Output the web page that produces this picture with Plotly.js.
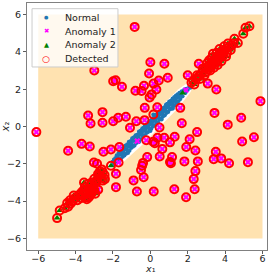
<!DOCTYPE html>
<html><head><meta charset="utf-8">
<script src="https://cdn.plot.ly/plotly-3.0.1.min.js"></script>
<style>html,body{margin:0;padding:0;background:#fff}#chart{width:274px;height:274px}</style>
</head><body><div id="chart"></div>
<script>
// Decision region (detector says "anomaly" inside the square, except the normal band)
const regionX = [-6, 6, 6, -6, -6];
const regionY = [-6, -6, 6, 6, -6];
const normalBandX = [-2.35, -2.1, -1.5, -0.5, 0.5, 1.5, 2.0, 2.35, 2.15, 1.5, 0.5, -0.5, -1.5, -2.0, -2.35];
const normalBandY = [-2.25, -1.8, -1.05, 0.0, 1.0, 2.0, 2.35, 2.35, 1.85, 1.0, -0.05, -1.05, -1.95, -2.25, -2.25];

const normalX = [-2.02,-1.98,-1.95,-1.91,-1.87,-1.84,-1.80,-1.77,-1.74,-1.70,-1.67,-1.63,-1.60,-1.57,-1.54,-1.51,-1.48,-1.45,-1.42,-1.39,-1.36,-1.33,-1.30,-1.27,-1.24,-1.21,-1.18,-1.15,-1.12,-1.09,-1.06,-1.03,-1.00,-0.97,-0.94,-0.91,-0.88,-0.85,-0.82,-0.79,-0.76,-0.73,-0.70,-0.67,-0.64,-0.61,-0.58,-0.55,-0.52,-0.49,-0.46,-0.43,-0.40,-0.37,-0.34,-0.31,-0.28,-0.25,-0.22,-0.19,-0.16,-0.13,-0.10,-0.07,-0.04,-0.01,0.02,0.05,0.08,0.11,0.14,0.17,0.20,0.23,0.26,0.29,0.32,0.35,0.38,0.41,0.44,0.47,0.50,0.53,0.56,0.59,0.62,0.65,0.68,0.71,0.74,0.77,0.80,0.83,0.86,0.89,0.92,0.95,0.98,1.01,1.04,1.07,1.10,1.13,1.16,1.19,1.22,1.25,1.28,1.31,1.34,1.37,1.40,1.43,1.46,1.49,1.52,1.56,1.60,1.64,1.68,1.72,1.77,1.82,1.87,1.93,2.00,2.08,2.14,0.16,-1.20,-0.60,0.00,0.60,1.20,-1.50,-0.90,-0.30,0.30,0.90];
const normalY = [-1.90,-2.06,-1.78,-1.96,-1.69,-1.88,-1.55,-1.80,-1.63,-1.42,-1.86,-1.50,-1.33,-1.71,-1.45,-1.20,-1.62,-1.38,-1.15,-1.55,-1.24,-1.02,-1.46,-1.21,-0.96,-1.35,-1.08,-0.82,-1.30,-0.99,-0.78,-1.15,-0.93,-0.63,-1.08,-0.77,-0.59,-1.02,-0.74,-0.47,-0.89,-0.61,-0.43,-0.84,-0.55,-0.28,-0.71,-0.44,-0.22,-0.67,-0.38,-0.10,-0.52,-0.24,-0.06,-0.47,-0.19,0.07,-0.35,-0.08,0.13,-0.30,0.00,0.26,-0.17,0.13,0.30,-0.12,0.16,0.44,0.01,0.29,0.47,0.06,0.35,0.61,0.19,0.46,0.68,0.23,0.52,0.80,0.38,0.66,0.84,0.43,0.71,0.97,0.55,0.82,1.03,0.60,0.90,1.16,0.73,1.03,1.20,0.78,1.06,1.34,0.91,1.19,1.37,0.96,1.25,1.50,1.09,1.36,1.57,1.15,1.43,1.66,1.28,1.54,1.73,1.35,1.62,1.80,1.47,1.74,1.89,1.62,1.88,1.98,1.80,2.02,1.97,2.12,2.08,0.64,-1.42,-0.82,-0.24,0.38,0.96,-1.18,-0.60,0.02,0.62,1.22];

// Anomaly 1 (uniform anomalies), detected
const anomaly1X = [-6.10,-3.00,-1.99,-1.86,-1.52,-0.84,-0.80,-0.47,-3.33,-3.20,-2.56,-2.56,-1.99,-1.72,-1.31,-1.09,-0.75,-0.31,0.00,0.75,-0.07,2.59,2.00,3.07,3.53,0.93,0.45,0.17,-0.34,0.32,0.07,-0.04,5.89,-0.30,0.37,1.60,3.43,4.86,4.14,2.50,1.68,0.49,0.38,0.74,1.30,1.05,0.15,0.24,-0.22,-1.66,-0.17,0.64,-2.51,-2.11,1.92,2.10,4.91,5.54,2.41,3.50,0.50,1.16,-0.39,-0.44,-0.50,1.05,1.10,1.82,2.54,3.39,3.79,4.21,5.22,-0.36,2.41,2.32,-0.72,0.18,1.28,2.37,1.91,-3.68,-4.40,-3.24,-3.02,-2.85,-1.70,-1.84,-1.84,-2.79,-0.90];
const anomaly1Y = [-0.30,3.00,2.43,2.48,2.13,5.34,1.92,1.90,0.59,0.16,0.77,0.20,0.28,0.47,0.52,-0.07,0.28,0.34,3.44,3.36,2.84,3.36,2.75,2.30,1.98,2.61,2.47,2.30,2.18,1.98,1.72,1.56,1.36,1.00,1.03,1.00,0.73,0.47,0.10,-0.30,0.17,-0.05,-0.60,-0.60,-0.55,-0.85,-0.82,-0.90,-0.74,-1.10,-1.64,-1.21,-1.35,-1.23,-1.10,-0.68,-0.80,-0.58,-1.29,-1.36,-1.61,-1.64,-1.95,-2.10,-2.33,-1.90,-1.97,-1.87,-1.87,-1.75,-1.71,-1.97,-1.91,-2.72,-2.39,-2.82,-3.48,-3.48,-3.36,-3.36,-3.79,-0.93,-1.30,-1.07,-1.93,-2.00,-1.93,-2.53,-3.25,-3.39,-2.89];
// Anomaly 1 points not detected (inside the normal band)
const anomaly1MissedX = [-0.70, 1.90];
const anomaly1MissedY = [-0.78, 1.95];

// Anomaly 2 (points continuing the normal line), detected
const anomaly2X = [2.20,2.30,2.45,2.60,2.75,2.85,2.95,3.00,3.10,3.15,3.25,3.30,3.35,3.45,3.50,3.55,3.60,3.70,3.75,3.85,3.90,4.00,4.10,4.20,4.35,4.50,4.68,4.97,5.09,5.30,
  2.35,2.50,2.65,2.80,2.90,3.05,3.20,3.30,3.40,3.55,3.60,3.70,3.80,3.95,4.05,4.15,4.30,4.45,3.35,3.15,3.90,3.65,
  -2.11,-2.45,-2.55,-2.60,-2.70,-2.75,-2.43,-2.90,-2.97,-3.05,-3.10,-3.20,-3.25,-3.30,-3.40,-3.45,-3.50,-3.60,-3.72,-3.85,-4.04,-4.15,-4.27,-4.40,-4.58,-4.85,-4.99,-3.24,
  -2.60,-2.80,-2.85,-2.55,-3.00,-3.15,-3.35,-3.50,-3.60,-3.40,-3.15,-3.00,-3.70,-3.90,-4.10,-4.30,-4.45,-3.30,-2.95,-3.55];
const anomaly2Y = [2.35,2.45,2.55,2.70,2.85,3.00,2.90,3.15,3.05,3.30,3.20,3.45,3.35,3.60,3.40,3.75,3.55,3.90,3.70,3.95,3.80,4.10,3.95,4.25,4.35,4.70,4.48,4.97,5.29,5.37,
  2.25,2.75,2.55,3.10,2.75,3.40,3.00,3.70,3.15,3.95,3.30,4.15,3.50,4.30,3.75,4.45,4.10,4.45,3.90,3.55,4.05,3.75,
  -2.10,-2.60,-2.45,-2.75,-2.41,-2.65,-2.82,-2.95,-3.04,-3.25,-3.45,-3.15,-3.60,-3.35,-3.55,-3.79,-3.40,-3.65,-3.84,-3.70,-3.84,-4.00,-4.14,-4.30,-4.38,-4.50,-4.91,-3.71,
  -2.30,-2.55,-2.85,-2.90,-2.80,-3.00,-3.10,-3.25,-3.45,-3.90,-3.60,-3.40,-3.55,-3.95,-3.70,-3.95,-4.10,-3.80,-3.60,-3.00];
const anomaly2MissedX = [1.73];
const anomaly2MissedY = [1.80];

// Normal points flagged by the detector
const falseAlarmX = [0.16];
const falseAlarmY = [0.64];

const legendLabels = ['Normal', 'Anomaly 1', 'Anomaly 2', 'Detected'];

const detectedX = anomaly1X.concat(anomaly2X, falseAlarmX);
const detectedY = anomaly1Y.concat(anomaly2Y, falseAlarmY);

const traces = [
  {x: regionX, y: regionY, type: 'scatter', mode: 'lines', fill: 'toself', fillcolor: 'rgb(255,226,176)', line: {width: 0}, hoverinfo: 'skip', showlegend: false},
  {x: normalBandX, y: normalBandY, type: 'scatter', mode: 'lines', fill: 'toself', fillcolor: '#ffffff', line: {width: 0}, hoverinfo: 'skip', showlegend: false},
  {x: normalX, y: normalY, type: 'scatter', mode: 'markers', name: legendLabels[0], marker: {color: '#1f77b4', size: 4.2}},
  {x: anomaly1X.concat(anomaly1MissedX), y: anomaly1Y.concat(anomaly1MissedY), type: 'scatter', mode: 'markers', name: legendLabels[1], marker: {color: '#ff00ff', size: 5.5, symbol: 'x'}},
  {x: anomaly2X.concat(anomaly2MissedX), y: anomaly2Y.concat(anomaly2MissedY), type: 'scatter', mode: 'markers', name: legendLabels[2], marker: {color: '#008000', size: 6, symbol: 'triangle-up'}},
  {x: detectedX, y: detectedY, type: 'scatter', mode: 'markers', name: legendLabels[3], marker: {color: '#ff0000', size: 8, symbol: 'circle-open', line: {width: 2}}}
];

const font = {family: 'DejaVu Sans', size: 9.5, color: '#222'};
const legendYs = [0.9413, 0.8858, 0.8304, 0.7749];
const symbolTexts = ['●', '✖', '▲', '○'];
const symbolColors = ['#1f77b4', '#ff00ff', '#008000', '#ff0000'];
const symbolSizes = [5, 6.5, 6.5, 9];
const annotations = [];
legendLabels.forEach((lab, i) => {
  annotations.push({xref: 'paper', yref: 'paper', x: 0.15, y: legendYs[i], xanchor: 'left', yanchor: 'middle', text: lab, showarrow: false, font: font});
  annotations.push({xref: 'paper', yref: 'paper', x: 0.080, y: legendYs[i], xanchor: 'center', yanchor: 'middle', text: symbolTexts[i], showarrow: false, font: {family: 'DejaVu Sans', size: symbolSizes[i], color: symbolColors[i]}});
});
// x-axis label placed just below the tick labels
annotations.push({xref: 'paper', yref: 'paper', x: 0.513, y: 0, yshift: -18, xanchor: 'center', yanchor: 'middle', borderpad: 0, text: '<i>x</i>₁', showarrow: false, font: {family: 'DejaVu Sans', size: 9.5, color: '#222'}});

const axisCommon = {
  showgrid: false, zeroline: false, showline: true, mirror: true, linecolor: '#808080', linewidth: 1,
  ticks: 'outside', ticklen: 3, tickwidth: 0.8, tickcolor: '#333', tickfont: font,
  tickvals: [-6, -4, -2, 0, 2, 4, 6]
};

const layout = {
  width: 274, height: 274,
  margin: {l: 27, r: 7, t: 3, b: 24},
  paper_bgcolor: '#fff', plot_bgcolor: '#fff',
  showlegend: false,
  xaxis: Object.assign({}, axisCommon, {range: [-6.6, 6.24], ticklabelstandoff: -3}),
  yaxis: Object.assign({}, axisCommon, {range: [-6.62, 6.62], title: {text: '<i>x</i>₂', font: {family: 'DejaVu Sans', size: 10, color: '#222'}, standoff: 0}}),
  shapes: [{type: 'rect', xref: 'paper', yref: 'paper', x0: 0.021, x1: 0.379, y0: 0.741, y1: 0.977, fillcolor: 'rgba(255,255,255,0.8)', line: {color: '#cccccc', width: 1}, layer: 'above'}],
  annotations: annotations
};

Plotly.newPlot('chart', traces, layout, {displayModeBar: false, staticPlot: true});
</script>
</body></html>
